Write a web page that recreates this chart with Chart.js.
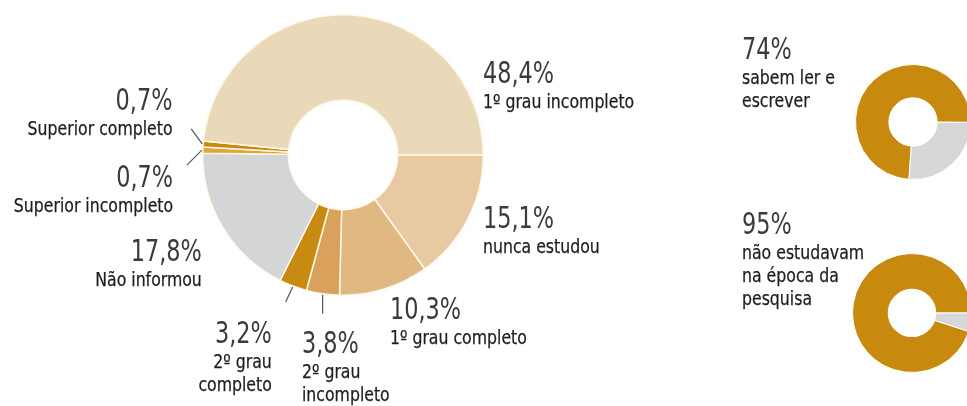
<!DOCTYPE html>
<html>
<head>
<meta charset="utf-8">
<script src="https://cdn.jsdelivr.net/npm/chart.js@4.4.1/dist/chart.umd.min.js"></script>
<style>
  html, body { margin: 0; padding: 0; background: #fff; }
  body { width: 967px; height: 406px; position: relative; overflow: hidden;
         font-family: "DejaVu Sans Condensed", "Liberation Sans Narrow", sans-serif; }
  canvas { position: absolute; }
  .bloco { position: absolute; white-space: nowrap; }
  .pct { display: block; font-size: 30px; line-height: 30px; color: #3b3b3b; transform: scaleX(0.83); }
  .rot { display: block; font-size: 19px; line-height: 23px; margin-top: 2px; color: #1e1e1e;
         white-space: pre; transform: scaleX(0.92); -webkit-text-stroke: 0.25px #1e1e1e; }
</style>
</head>
<body>
<canvas id="principal" width="967" height="406" style="left:0;top:0"></canvas>
<canvas id="leitura" width="116" height="116" style="left:855px;top:64px"></canvas>
<canvas id="estudo" width="120" height="120" style="left:852px;top:253px"></canvas>

<script>
// escolaridade - fatias no sentido horario a partir das 3 horas
const fatias = ['nunca estudou', '1º grau completo', '2º grau\nincompleto', '2º grau\ncompleto',
  'Não informou', 'Superior incompleto', 'Superior completo', '1º grau incompleto'];
const percentuais = [15.1, 10.3, 3.8, 3.2, 17.8, 0.7, 0.7, 48.4];
const coresFatias = ['#E8C9A1', '#E0B982', '#D9A25C', '#C98A12', '#D3D5D6', '#E3A43A', '#C88B10', '#EAD9B9'];

// alfabetizacao e estudo
const leituraRotulos = ['sabem ler e\nescrever', 'não sabem'];
const leituraValores = [74, 26];
const estudoRotulos = ['não estudavam\nna época da\npesquisa', 'estudavam'];
const estudoValores = [95, 5];
const coresPequenas = ['#C88A0E', '#D6D7D8'];

// posicao dos textos (topo do bloco) - so layout
const posTextos = [
  { x: 483, y: 203, lado: 'left' },   // nunca estudou
  { x: 390, y: 294, lado: 'left' },   // 1 grau completo
  { x: 302, y: 328, lado: 'left' },   // 2 grau incompleto
  { x: 272, y: 318, lado: 'right' },  // 2 grau completo
  { x: 202, y: 236, lado: 'right' },  // nao informou
  { x: 173, y: 162, lado: 'right' },  // superior incompleto
  { x: 173, y: 85, lado: 'right' },   // superior completo
  { x: 483, y: 58, lado: 'left' }     // 1 grau incompleto
];

// linhas de chamada: indice da fatia, desvio em x/y a partir da borda
const chamadas = [
  { i: 6, dx: -11, dy: -15 },
  { i: 5, dx: -15, dy: 15 },
  { i: 3, dx: -7, dy: 15 },
  { i: 2, dx: 0, dy: 19 }
];

function fmt(v) {
  return v.toFixed(v % 1 === 0 ? 0 : 1).replace('.', ',') + '%';
}

function bloco(pct, rotulo, x, y, lado) {
  const d = document.createElement('div');
  d.className = 'bloco';
  d.style.top = y + 'px';
  d.style.textAlign = lado;
  if (lado === 'right') d.style.right = (967 - x) + 'px';
  else d.style.left = x + 'px';
  const p = document.createElement('span');
  p.className = 'pct';
  p.textContent = pct;
  p.style.transformOrigin = lado + ' top';
  const r = document.createElement('span');
  r.className = 'rot';
  r.textContent = rotulo;
  r.style.transformOrigin = lado + ' top';
  d.appendChild(p);
  d.appendChild(r);
  document.body.appendChild(d);
}

fatias.forEach(function (nome, i) {
  const pos = posTextos[i];
  bloco(fmt(percentuais[i]), nome, pos.x, pos.y, pos.lado);
});
bloco(fmt(leituraValores[0]), leituraRotulos[0], 742, 34, 'left');
bloco(fmt(estudoValores[0]), estudoRotulos[0], 742, 209, 'left');

const linhasChamada = {
  id: 'linhasChamada',
  afterDatasetsDraw(chart) {
    const ctx = chart.ctx;
    const arcos = chart.getDatasetMeta(0).data;
    ctx.save();
    ctx.strokeStyle = '#555';
    ctx.lineWidth = 1.2;
    chamadas.forEach(function (c) {
      const a = arcos[c.i];
      const meio = (a.startAngle + a.endAngle) / 2;
      const r = a.outerRadius + 1;
      const x0 = a.x + Math.cos(meio) * r;
      const y0 = a.y + Math.sin(meio) * r;
      ctx.beginPath();
      ctx.moveTo(x0, y0);
      ctx.lineTo(x0 + c.dx, y0 + c.dy);
      ctx.stroke();
    });
    ctx.restore();
  }
};

new Chart(document.getElementById('principal'), {
  type: 'doughnut',
  data: {
    labels: fatias,
    datasets: [{
      data: percentuais,
      backgroundColor: coresFatias,
      borderColor: '#FFF7E8',
      borderWidth: 1.5
    }]
  },
  options: {
    responsive: false,
    animation: false,
    rotation: 90,
    cutout: '39%',
    layout: { padding: { left: 202, top: 14, right: 483, bottom: 110 } },
    plugins: { legend: { display: false }, tooltip: { enabled: false } }
  },
  plugins: [linhasChamada]
});

function pequena(id, rotulos, valores, rotacao, corte) {
  new Chart(document.getElementById(id), {
    type: 'doughnut',
    data: {
      labels: rotulos,
      datasets: [{
        data: valores,
        backgroundColor: coresPequenas,
        borderColor: '#fff',
        borderWidth: 1
      }]
    },
    options: {
      responsive: false,
      animation: false,
      rotation: rotacao,
      cutout: corte,
      plugins: { legend: { display: false }, tooltip: { enabled: false } }
    }
  });
}

pequena('leitura', leituraRotulos, leituraValores, 184, '42%');
pequena('estudo', estudoRotulos, estudoValores, 108, '40%');
</script>
</body>
</html>
